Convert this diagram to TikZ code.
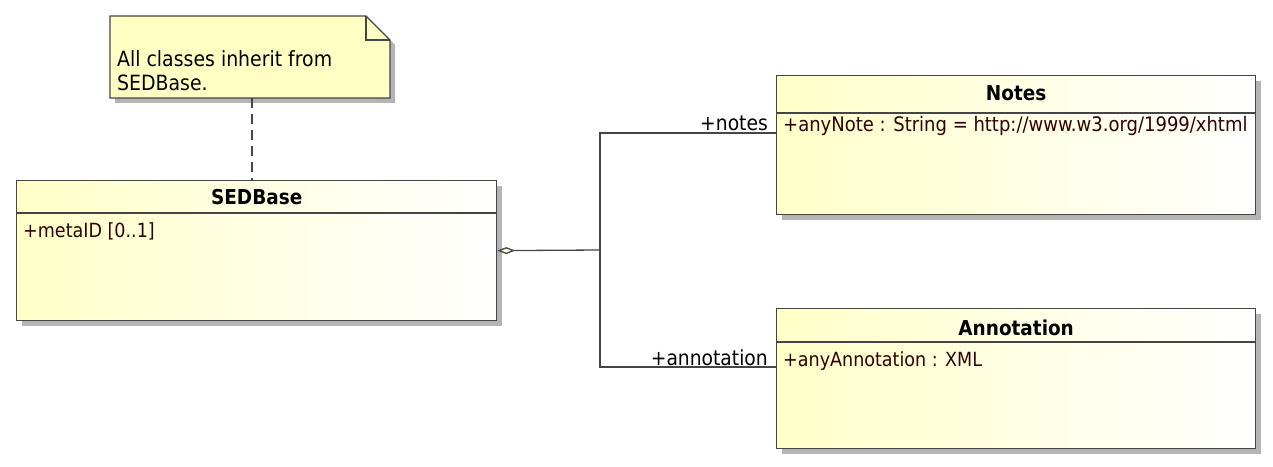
\documentclass[tikz,border=0pt]{standalone}
\usepackage{fontspec}
\setmainfont{DejaVu Sans Condensed}
\usetikzlibrary{shadows,arrows.meta,calc}
\definecolor{boxline}{HTML}{454545}
\definecolor{boxyellow}{HTML}{FFFFC8}
\definecolor{notefill}{HTML}{FFFFC4}
\definecolor{attrcol}{HTML}{330000}
\definecolor{shadowgray}{HTML}{B4B4B4}
\tikzset{
  classbox/.style={draw=boxline, line width=1.3pt, left color=boxyellow, right color=white,
    anchor=north west, inner sep=0pt,
    drop shadow={shadow xshift=5pt, shadow yshift=-5pt, fill=shadowgray, opacity=1}},
  classtitle/.style={font=\fontsize{20.5}{24}\selectfont\bfseries, anchor=base, inner sep=0pt},
  attr/.style={font=\fontsize{19.5}{23}\selectfont, text=attrcol, anchor=base west, inner sep=0pt},
  role/.style={font=\fontsize{20.8}{24}\selectfont, anchor=base east, inner sep=0pt},
  conn/.style={draw=boxline, line width=1.3pt},
}
\begin{document}
\begin{tikzpicture}[x=1pt,y=1pt]
\useasboundingbox (0,0) rectangle (1273,466);
% note
\fill[shadowgray] (115,363) -- (115,445) -- (371,445) -- (395,421) -- (395,363) -- cycle;
\draw[boxline, line width=1.3pt, fill=notefill] (110,368) -- (110,450) -- (366,450) -- (390,426) -- (390,368) -- cycle;
\draw[boxline, line width=1.3pt] (366,450) -- (366,426) -- (390,426);
\node[font=\fontsize{21}{24}\selectfont, anchor=base west, inner sep=0pt, align=left] (notetext) at (117,375) {All classes inherit from\\SEDBase.};
\coordinate (notebottom) at (252,368);
% classes
\node[classbox, minimum width=480pt, minimum height=140pt] (sed) at (16,286) {};
\node[classbox, minimum width=479pt, minimum height=139pt] (notes) at (776,391) {};
\node[classbox, minimum width=479pt, minimum height=140pt] (annot) at (776,158) {};
% separators
\draw[conn] ($(sed.north west)+(0,-33)$) -- ($(sed.north east)+(0,-33)$);
\draw[conn] ($(notes.north west)+(0,-38)$) -- ($(notes.north east)+(0,-38)$);
\draw[conn] ($(annot.north west)+(0,-34)$) -- ($(annot.north east)+(0,-34)$);
% titles
\node[classtitle] (sedtitle) at ($(sed.north)+(0,-25)$) {SEDBase};
\node[classtitle] (notestitle) at ($(notes.north)+(0,-26)$) {Notes};
\node[classtitle] (annottitle) at ($(annot.north)+(0,-27)$) {Annotation};
% attributes
\node[attr] (sedattr) at (23,228) {+metaID [0..1]};
\node[attr, font=\fontsize{20}{23}\selectfont] (notesattr) at (783,334) {+anyNote : String = http://www.w3.org/1999/xhtml};
\node[attr] (annotattr) at (783,100) {+anyAnnotation : XML};
% dashed note link
\draw[conn, dash pattern=on 10pt off 6pt] (notebottom) -- (sed.north -| notebottom);
% associations
\coordinate (junction) at (600,216);
\coordinate (notesend) at ($(notes.north west)+(0,-58)$);
\coordinate (annotend) at ($(annot.north west)+(0,-59)$);
\draw[conn, {Diamond[open,length=18pt,width=7pt,fill=boxyellow!40]}-] (sed.east) -- (junction);
\draw[conn] (notesend) -- (notesend -| junction) -- (annotend -| junction) -- (annotend);
\node[role] (notesrole) at (768,335) {+notes};
\node[role] (annotrole) at (768,101) {+annotation};
\end{tikzpicture}
\end{document}
